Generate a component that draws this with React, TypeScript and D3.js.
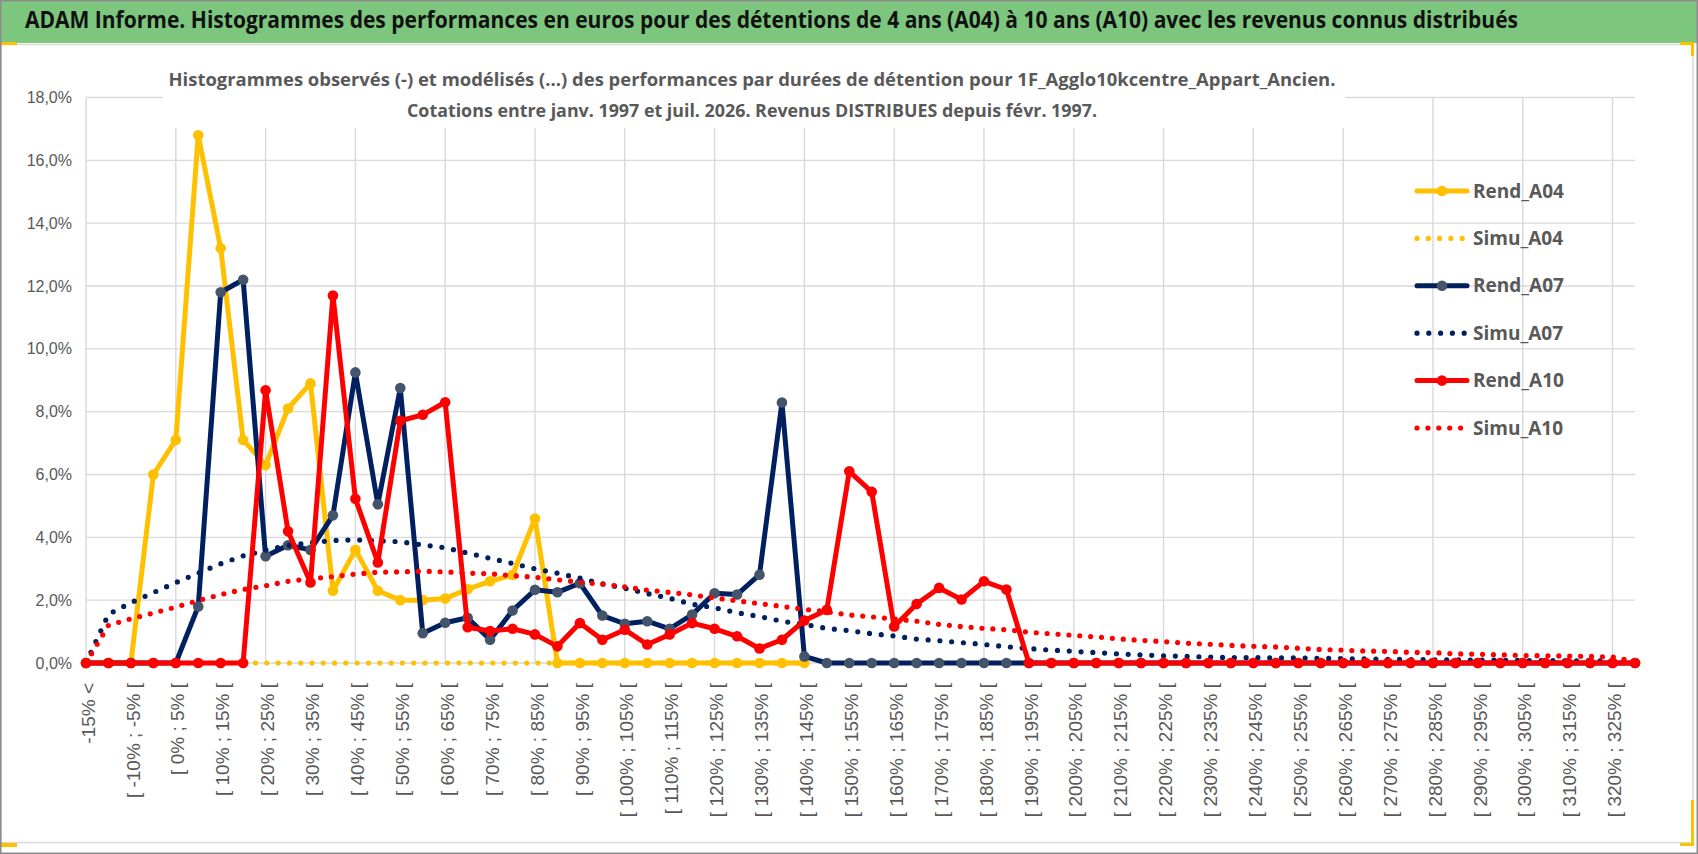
import { useEffect } from "react";
import * as d3 from "d3";

const W = 1698;
const H = 854;

// categories: "-15% <", then bins of 5% up to 325%, then the open last bin
const categories: string[] = [
    "-15% <",
    ...d3.range(1, 69).map(k => `[ ${5 * k - 20}% ; ${5 * k - 15}% [`),
    "> 325%",
];

const yTicks = [0, 2, 4, 6, 8, 10, 12, 14, 16, 18];

const rendA04 = [0, 0, 0, 6.0, 7.1, 16.8, 13.2, 7.1, 6.3, 8.1, 8.9, 2.3, 3.6, 2.3, 2.0, 2.0, 2.05, 2.35, 2.6, 2.8, 4.6,
    0, 0, 0, 0, 0, 0, 0, 0, 0, 0, 0, 0];
const simuA04 = [0, 0, 0, 0, 0, 0, 0, 0, 0, 0, 0, 0, 0, 0, 0, 0, 0, 0, 0, 0, 0,
    0, 0, 0, 0, 0, 0, 0, 0, 0, 0, 0, 0];
const rendA07 = [0, 0, 0, 0, 0, 1.8, 11.8, 12.2, 3.4, 3.75, 3.6, 4.7, 9.25, 5.05, 8.75, 0.95, 1.28, 1.44, 0.74, 1.67,
    2.33, 2.25, 2.54, 1.51, 1.25, 1.33, 1.09, 1.54, 2.22, 2.18, 2.81, 8.29, 0.21,
    0, 0, 0, 0, 0, 0, 0, 0, 0, 0, 0, 0, 0, 0, 0, 0, 0, 0, 0, 0, 0, 0, 0, 0, 0, 0, 0, 0, 0, 0, 0, 0, 0, 0, 0, 0, 0];
const simuA07 = [0, 1.55, 1.92, 2.24, 2.56, 2.86, 3.16, 3.41, 3.59, 3.74, 3.83, 3.9, 3.92, 3.89, 3.86, 3.76, 3.67,
    3.5, 3.33, 3.17, 3.0, 2.86, 2.7, 2.52, 2.38, 2.21, 2.06, 1.87, 1.76, 1.6, 1.48, 1.33, 1.23, 1.1, 1.03, 0.93,
    0.86, 0.76, 0.71, 0.65, 0.59, 0.52, 0.46, 0.41, 0.37, 0.33, 0.29, 0.26, 0.23, 0.21, 0.19, 0.17, 0.17, 0.16,
    0.16, 0.15, 0.14, 0.13, 0.12, 0.11, 0.1, 0.1, 0.09, 0.09, 0.08, 0.08, 0.07, 0.07, 0.06, 0.05];
const rendA10 = [0, 0, 0, 0, 0, 0, 0, 0, 8.68, 4.19, 2.56, 11.7, 5.23, 3.2, 7.71, 7.9, 8.3, 1.14, 1.02, 1.09, 0.91,
    0.53, 1.27, 0.74, 1.06, 0.59, 0.91, 1.27, 1.09, 0.85, 0.46, 0.74, 1.35, 1.69, 6.1, 5.45, 1.16, 1.88, 2.39,
    2.02, 2.6, 2.34, 0, 0, 0, 0, 0, 0, 0, 0, 0, 0, 0, 0, 0, 0, 0, 0, 0, 0, 0, 0, 0, 0, 0, 0, 0, 0, 0, 0];
const simuA10 = [0, 1.2, 1.41, 1.59, 1.78, 1.99, 2.18, 2.34, 2.46, 2.6, 2.68, 2.75, 2.83, 2.89, 2.9, 2.92, 2.9,
    2.86, 2.84, 2.78, 2.73, 2.65, 2.57, 2.51, 2.42, 2.32, 2.25, 2.17, 2.07, 1.98, 1.89, 1.8, 1.71, 1.63, 1.53,
    1.47, 1.4, 1.33, 1.23, 1.16, 1.1, 1.06, 0.98, 0.93, 0.88, 0.83, 0.77, 0.72, 0.68, 0.63, 0.6, 0.56, 0.53,
    0.51, 0.47, 0.43, 0.41, 0.38, 0.37, 0.34, 0.33, 0.29, 0.28, 0.26, 0.24, 0.23, 0.22, 0.21, 0.19, 0.05];

type Serie = { name: string; values: number[]; color: string; dotted: boolean; gap?: number; marker?: string };

const series: Serie[] = [
    { name: "Rend_A04", values: rendA04, color: "#FFC000", dotted: false, marker: "#FFC000" },
    { name: "Simu_A04", values: simuA04, color: "#FFC000", dotted: true, gap: 11.3 },
    { name: "Rend_A07", values: rendA07, color: "#002060", dotted: false, marker: "#44546A" },
    { name: "Simu_A07", values: simuA07, color: "#002060", dotted: true, gap: 11.8 },
    { name: "Rend_A10", values: rendA10, color: "#FF0000", dotted: false, marker: "#FF0000" },
    { name: "Simu_A10", values: simuA10, color: "#FF0000", dotted: true, gap: 10.9 },
];

const TITLE = "ADAM Informe. Histogrammes des performances en euros pour des détentions de 4 ans (A04) à 10 ans (A10) avec les revenus connus distribués";
const SUB1 = "Histogrammes observés (-) et modélisés (...) des performances par durées de détention pour 1F_Agglo10kcentre_Appart_Ancien.";
const SUB2 = "Cotations entre janv. 1997 et juil. 2026. Revenus DISTRIBUES depuis févr. 1997.";

const GRAY = "#595959";
const GRID = "#D9D9D9";
const FONT = "'Open Sans', 'Liberation Sans', sans-serif";

const App = () => {
    useEffect(() => {
        document.body.style.margin = "0";
    }, []);

    const x = d3.scalePoint<string>().domain(categories).range([86, 1635]);
    const y = d3.scaleLinear().domain([0, 18]).range([663, 97.5]);

    const lineOf = (vals: number[]) =>
        d3.line<number>()
            .x((_, i) => x(categories[i]) as number)
            .y(d => y(d))(vals) || "";

    const fmt = (v: number) => v.toFixed(1).replace(".", ",") + "%";

    const legendX = 1417;
    const legendY = 191;
    const legendStep = 47.4;

    return (
        <svg width={W} height={H} viewBox={`0 0 ${W} ${H}`} style={{ display: "block" }}>
            <rect x={0} y={0} width={W} height={H} fill="#fff" />
            {/* title bar */}
            <rect x={0} y={0} width={W} height={43} fill="#7DC67E" />
            <text x={25} y={22} dominantBaseline="middle" fontFamily={FONT} fontWeight="bold" fontSize={23}
                fill="#111" textLength={1493} lengthAdjust="spacingAndGlyphs">{TITLE}</text>

            {/* chart area */}
            <rect x={1} y={44.5} width={1692} height={798} fill="#fff" stroke={GRID} strokeWidth={1.5} />

            {/* gridlines */}
            {yTicks.map(t => (
                <line key={"h" + t} x1={x(categories[0])} x2={x(categories[69])} y1={y(t)} y2={y(t)}
                    stroke={GRID} strokeWidth={1.4} />
            ))}
            {categories.filter((_, i) => i % 4 === 0).map(c => (
                <line key={"v" + c} x1={x(c)} x2={x(c)} y1={y(18)} y2={y(0)} stroke={GRID} strokeWidth={1.4} />
            ))}

            {/* y axis labels */}
            {yTicks.map(t => (
                <text key={"yl" + t} x={72} y={y(t)} dy="0.35em" textAnchor="end" fontFamily="'Liberation Sans', sans-serif"
                    fontSize={16} fill={GRAY}>{fmt(t)}</text>
            ))}

            {/* x axis labels */}
            {categories.map((c, i) => i % 2 === 0 ? (
                <text key={"xl" + i} transform={`translate(${(x(c) as number) + 2},683) rotate(-90)`} dy="0.35em"
                    textAnchor="end" fontFamily="'Liberation Sans', sans-serif" fontSize={19} fill={GRAY}>{c}</text>
            ) : null)}

            {/* subtitle box */}
            <rect x={163} y={58} width={1182} height={70} fill="#fff" />
            <text x={752} y={81} dominantBaseline="middle" textAnchor="middle" fontFamily={FONT} fontWeight="bold"
                fontSize={18} fill={GRAY} textLength={1167} lengthAdjust="spacingAndGlyphs">{SUB1}</text>
            <text x={752} y={112} dominantBaseline="middle" textAnchor="middle" fontFamily={FONT} fontWeight="bold"
                fontSize={18} fill={GRAY} textLength={690} lengthAdjust="spacingAndGlyphs">{SUB2}</text>

            {/* series */}
            {series.map(s => (
                <g key={s.name}>
                    <path d={lineOf(s.values)} fill="none" stroke={s.color} strokeWidth={s.dotted ? 5.2 : 5}
                        strokeLinejoin="round" strokeLinecap="round"
                        strokeDasharray={s.dotted ? `0 ${s.gap}` : undefined} />
                    {s.marker && s.values.map((v, i) => (
                        <circle key={i} cx={x(categories[i])} cy={y(v)} r={5.3} fill={s.marker} />
                    ))}
                </g>
            ))}

            {/* legend */}
            {series.map((s, i) => {
                const ly = legendY + i * legendStep;
                return (
                    <g key={"lg" + s.name}>
                        <line x1={legendX} x2={legendX + 50} y1={ly} y2={ly} stroke={s.color} strokeWidth={s.dotted ? 5.2 : 5}
                            strokeLinecap="round" strokeDasharray={s.dotted ? `0 ${s.gap}` : undefined} />
                        {s.marker && <circle cx={legendX + 25} cy={ly} r={5.3} fill={s.marker} />}
                        <text x={legendX + 56} y={ly} dy="0.35em" fontFamily={FONT} fontWeight="bold" fontSize={19}
                            fill={GRAY}>{s.name}</text>
                    </g>
                );
            })}

            {/* selection marks and outer frame */}
            <rect x={0} y={42} width={17} height={3} fill="#FFC000" />
            <rect x={1680} y={42} width={14} height={3} fill="#FFC000" />
            <rect x={1691} y={42} width={3} height={14} fill="#FFC000" />
            <rect x={1691} y={800} width={3} height={46} fill="#FFC000" />
            <rect x={1680} y={843} width={14} height={3} fill="#FFC000" />
            <rect x={0} y={843} width={17} height={4} fill="#FFC000" />
            <rect x={0.75} y={0.75} width={W - 1.5} height={H - 1.5} fill="none" stroke="#8C8C8C" strokeWidth={1.5} />
        </svg>
    );
};

export default App;
